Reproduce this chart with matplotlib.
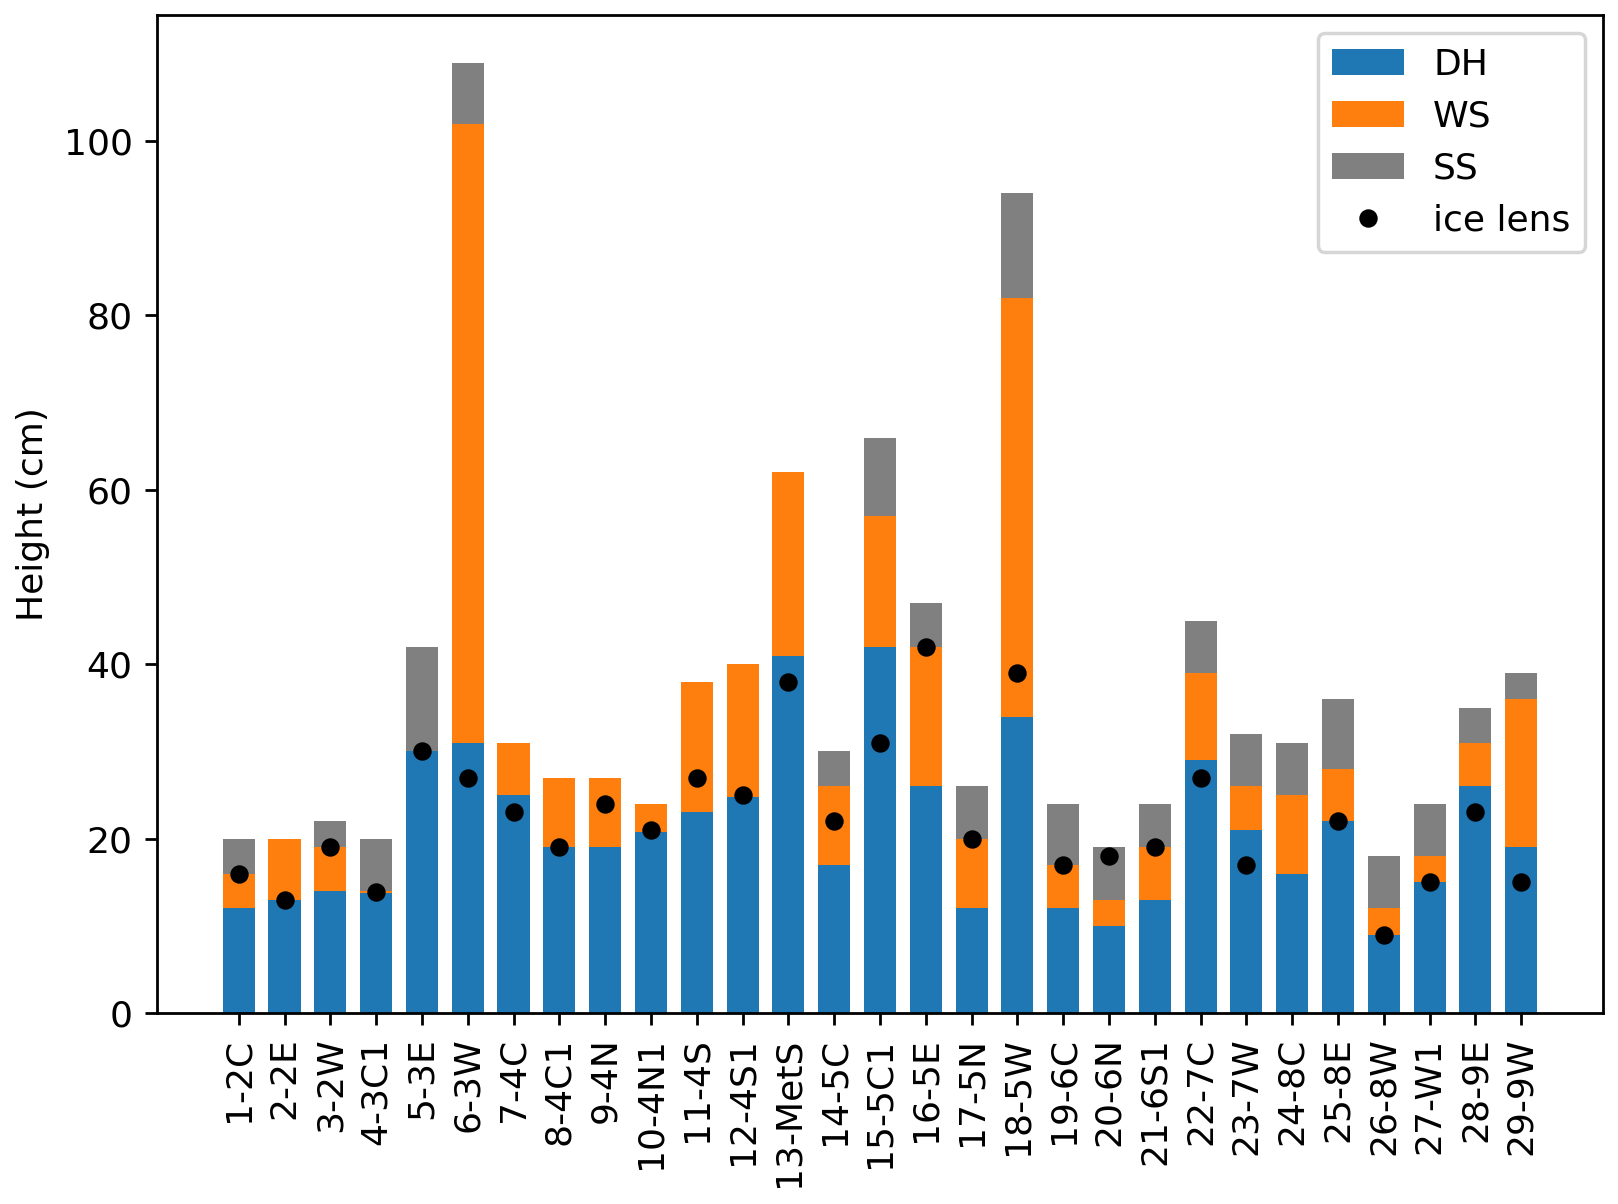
#!/usr/bin/env python3

import numpy as np
import matplotlib
matplotlib.use('Agg')
import matplotlib.pyplot as plt

# Snow pit layer heights (cm)
sites = ['1-2C', '2-2E', '3-2W', '4-3C1', '5-3E', '6-3W', '7-4C', '8-4C1',
         '9-4N', '10-4N1', '11-4S', '12-4S1', '13-MetS', '14-5C', '15-5C1',
         '16-5E', '17-5N', '18-5W', '19-6C', '20-6N', '21-6S1', '22-7C',
         '23-7W', '24-8C', '25-8E', '26-8W', '27-W1', '28-9E', '29-9W']

dh = [12, 13, 14, 13.8, 30, 31, 25, 19, 19, 20.8, 23, 24.8, 41, 17, 42,
      26, 12, 34, 12, 10, 13, 29, 21, 16, 22, 9, 15, 26, 19]
ws = [4, 7, 5, 0.2, 0, 71, 6, 8, 8, 3.2, 15, 15.2, 21, 9, 15,
      16, 8, 48, 5, 3, 6, 10, 5, 9, 6, 3, 3, 5, 17]
ss = [4, 0, 3, 6, 12, 7, 0, 0, 0, 0, 0, 0, 0, 4, 9,
      5, 6, 12, 7, 6, 5, 6, 6, 6, 8, 6, 6, 4, 3]
ice_lens = [16, 13, 19, 13.9, 30, 27, 23, 19, 24, 21, 27, 25, 38, 22, 31,
            42, 20, 39, 17, 18, 19, 27, 17, np.nan, 22, 9, 15, 23, 15]

plt.rcParams['font.size'] = 10.4

x = np.arange(len(sites))
dh = np.array(dh)
ws = np.array(ws)
ss = np.array(ss)

fig, ax = plt.subplots(figsize=(6.472, 4.816), dpi=250)
fig.subplots_adjust(left=0.097, right=0.9907, bottom=0.1586, top=0.9875)

width = 0.7
b1 = ax.bar(x, dh, width, color='C0', label='DH')
b2 = ax.bar(x, ws, width, bottom=dh, color='C1', label='WS')
b3 = ax.bar(x, ss, width, bottom=dh + ws, color='gray', label='SS')
p, = ax.plot(x, ice_lens, 'o', color='k', markersize=4.3, linestyle='none',
             label='ice lens')

ax.set_xticks(x)
ax.set_xticklabels(sites, rotation=90)
ax.set_ylabel('Height (cm)')
ax.legend(handles=[b1, b2, b3, p], loc='upper right')

plt.savefig('out.png', dpi=250)
plt.close()
